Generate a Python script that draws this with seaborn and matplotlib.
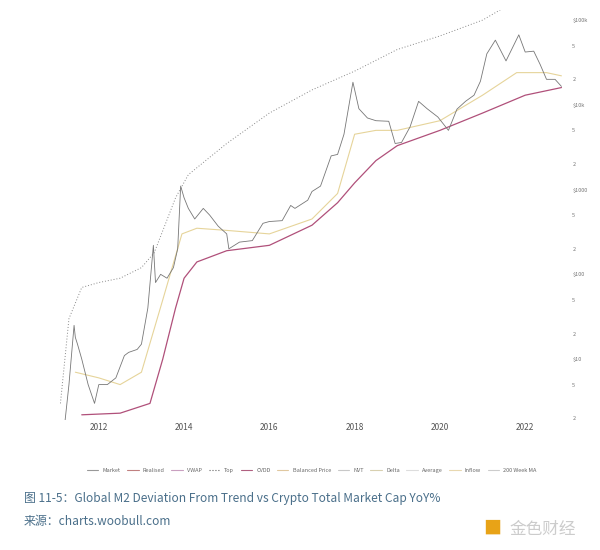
import matplotlib
matplotlib.use("Agg")
import matplotlib.pyplot as plt
import seaborn as sns
import pandas as pd
import numpy as np
from matplotlib.lines import Line2D

sns.set_theme(style="white")
plt.rcParams['font.family'] = ['Noto Sans CJK SC', 'DejaVu Sans']

mkt_t = [2011.05,2011.15,2011.3,2011.42,2011.45,2011.5,2011.6,2011.75,2011.9,2012.0,2012.2,2012.4,2012.6,2012.7,2012.9,2013.0,2013.15,2013.28,2013.33,2013.45,2013.6,2013.75,2013.85,2013.92,2014.0,2014.1,2014.25,2014.45,2014.6,2014.8,2015.0,2015.05,2015.3,2015.6,2015.85,2016.0,2016.3,2016.5,2016.6,2016.9,2017.0,2017.2,2017.45,2017.6,2017.75,2017.96,2018.1,2018.3,2018.5,2018.8,2018.95,2019.1,2019.3,2019.5,2019.7,2019.95,2020.2,2020.4,2020.6,2020.8,2020.95,2021.1,2021.3,2021.55,2021.7,2021.85,2022.0,2022.2,2022.35,2022.5,2022.7,2022.85]
mkt_v = [0.5,1.0,5,25,18,15,10,5,3,5,5,6,11,12,13,15,40,220,80,100,90,120,200,1100,800,600,450,600,500,370,300,200,240,250,400,420,430,650,600,750,950,1100,2500,2600,4500,18500,9000,7000,6500,6400,3500,3600,5500,11000,9000,7200,5000,8900,11000,13000,19000,40000,58000,33000,47000,67000,42000,43000,30000,20000,20000,16500]

cvdd_t = [2011.6,2012.5,2013.2,2013.5,2013.8,2014.0,2014.3,2015.0,2016.0,2017.0,2017.6,2018.0,2018.5,2019.0,2020.0,2021.0,2022.0,2022.85]
cvdd_v = [2.2,2.3,3,10,40,90,140,190,220,380,700,1200,2200,3300,5000,8000,13000,16000]

bal_t = [2011.45,2012.0,2012.5,2013.0,2013.5,2013.95,2014.3,2015.0,2016.0,2017.0,2017.6,2018.0,2018.5,2019.0,2020.0,2021.0,2021.8,2022.5,2022.85]
bal_v = [7,6,5,7,50,300,350,330,300,450,900,4500,5000,5000,6500,13000,24000,24000,22000]

top_t = [2011.1,2011.3,2011.6,2012.0,2012.5,2013.0,2013.3,2013.8,2014.1,2015.0,2016.0,2017.0,2018.0,2019.0,2020.0,2021.0,2021.5]
top_v = [3,30,70,80,90,120,180,800,1500,3500,8000,15000,25000,45000,65000,100000,140000]

legend_labels = ["Market","Realised","VWAP","Top","CVDD","Balanced Price","NVT","Delta","Average","Inflow","200 Week MA"]
legend_colors = ["#999999","#c08080","#c9a0c0","#666666","#b06080","#e0c8a0","#c8c8c8","#d8d0b0","#dddddd","#e8d8b0","#cccccc"]
legend_styles = ["-","-","-",":","-","-","-","-","-","-","-"]

fig = plt.figure(figsize=(6,5.5), dpi=100)
ax = fig.add_axes([0.10,0.236,0.84,0.745])
sns.lineplot(x=top_t, y=top_v, ax=ax, color="#888888", lw=0.7, linestyle=(0,(1,2)))
sns.lineplot(x=bal_t, y=bal_v, ax=ax, color="#e6d49a", lw=0.8)
sns.lineplot(x=cvdd_t, y=cvdd_v, ax=ax, color="#b0507a", lw=0.9)
sns.lineplot(x=mkt_t, y=mkt_v, ax=ax, color="#777777", lw=0.6)
ax.set_yscale("log")
ax.set_ylim(1.9,130000)
ax.set_xlim(2011.09,2022.91)
for s in ax.spines.values(): s.set_visible(False)
ax.set_xticks([2012,2014,2016,2018,2020,2022])
ax.set_xticklabels(["2012","2014","2016","2018","2020","2022"], fontsize=6, color="#555555")
ax.tick_params(axis='x', length=0, pad=2)
ax.yaxis.tick_right()
yt = [2,5,10,20,50,100,200,500,1000,2000,5000,10000,20000,50000,100000]
yl = ["2","5","$10","2","5","$100","2","5","$1000","2","5","$10k","2","5","$100k"]
ax.set_yticks(yt); ax.set_yticklabels(yl, fontsize=4, color="#777777")
ax.minorticks_off()
ax.tick_params(axis='y', length=0, pad=6)
ax.set_xlabel(""); ax.set_ylabel("")

handles = [Line2D([0],[0],color=c,lw=0.8,linestyle=s) for c,s in zip(legend_colors,legend_styles)]
fig.legend(handles, legend_labels, loc="center", bbox_to_anchor=(0.52,0.145), ncol=11, frameon=False,
           fontsize=4, handlelength=2, columnspacing=1.2, labelcolor="#666666")
fig.text(0.04,0.088,"图 11-5：Global M2 Deviation From Trend vs Crypto Total Market Cap YoY%", fontsize=8.6, color="#4a6f8a")
fig.text(0.04,0.045,"来源：charts.woobull.com", fontsize=8.6, color="#4a6f8a")
fig.text(0.805,0.03,"■", fontsize=13, color="#e8a317")
fig.text(0.85,0.03,"金色财经", fontsize=12, color="#cccccc")
fig.savefig("out.png", dpi=100, facecolor="white")
